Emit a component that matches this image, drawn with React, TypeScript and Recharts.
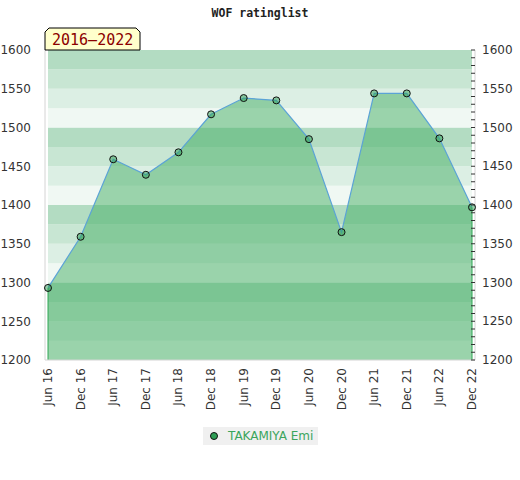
import { ComposedChart, Area, Line, XAxis, YAxis, ReferenceArea, ReferenceLine } from "recharts";

const months = [
  "Jun 16", "Dec 16", "Jun 17", "Dec 17", "Jun 18", "Dec 18", "Jun 19",
  "Dec 19", "Jun 20", "Dec 20", "Jun 21", "Dec 21", "Jun 22", "Dec 22",
];
const ratings = [1293, 1359, 1459, 1439, 1468, 1517, 1538, 1535, 1485, 1365, 1544, 1544, 1486, 1397];

const majorTicks = [1200, 1250, 1300, 1350, 1400, 1450, 1500, 1550, 1600];
const minorTicks = [
  1200, 1210, 1220, 1230, 1240, 1250, 1260, 1270, 1280, 1290,
  1300, 1310, 1320, 1330, 1340, 1350, 1360, 1370, 1380, 1390,
  1400, 1410, 1420, 1430, 1440, 1450, 1460, 1470, 1480, 1490,
  1500, 1510, 1520, 1530, 1540, 1550, 1560, 1570, 1580, 1590, 1600,
];
const bandEdges = [1200, 1225, 1250, 1275, 1300, 1325, 1350, 1375, 1400, 1425, 1450, 1475, 1500, 1525, 1550, 1575, 1600];
// lightest at the bottom of each 100-block, darkest at the top
const bandColors = ["#f0f8f3", "#dcefe4", "#c8e6d3", "#b3dcc2"];

const data = months.map((m, i) => ({ month: m, rating: ratings[i] }));
const font = "'DejaVu Sans', sans-serif";
const mono = "'DejaVu Sans Mono', monospace";

const MonthTick = ({ x, y, payload }: any) => (
  <text
    x={x}
    y={y}
    dy={4}
    transform={`rotate(-90, ${x}, ${y})`}
    textAnchor="end"
    fontSize={12}
    fontFamily={font}
    fill="#333"
  >
    {payload.value}
  </text>
);

const RightTick = ({ x, y, payload }: any) => (
  <g>
    <line x1={x - 4} y1={y} x2={x} y2={y} stroke="#333" />
    {Number(payload.value) % 50 === 0 && (
      <text x={x + 7} y={y} dy={4} fontSize={12} fontFamily={font} fill="#333">
        {payload.value}
      </text>
    )}
  </g>
);

export default function App() {
  return (
    <div style={{ position: "absolute", left: 0, top: 0, width: 520, height: 480, background: "#fff" }}>
      <ComposedChart width={520} height={480} data={data} margin={{ top: 50, right: 0, bottom: 60, left: 0 }}>
        {bandEdges.slice(0, -1).map((from, i) => (
          <ReferenceArea
            key={from}
            yAxisId="left"
            y1={from}
            y2={bandEdges[i + 1]}
            fill={bandColors[i % 4]}
            fillOpacity={1}
            stroke="none"
          />
        ))}
        <ReferenceArea yAxisId="left" fill="none" stroke="#d4d4d4" />
        <XAxis
          dataKey="month"
          height={60}
          tick={<MonthTick />}
          tickLine={false}
          tickSize={0}
          tickMargin={8}
          interval={0}
          padding={{ left: 3, right: 3 }}
          axisLine={{ stroke: "#d4d4d4" }}
        />
        <YAxis
          yAxisId="left"
          width={45}
          domain={[1200, 1600]}
          ticks={majorTicks}
          tickLine={false}
          axisLine={{ stroke: "#d4d4d4" }}
          tick={{ fontSize: 12, fontFamily: font, fill: "#333" }}
          tickMargin={8}
        />
        <YAxis
          yAxisId="right"
          orientation="right"
          width={45}
          domain={[1200, 1600]}
          allowDataOverflow
          ticks={minorTicks}
          interval={0}
          tickLine={false}
          tickSize={0}
          tickMargin={0}
          axisLine={{ stroke: "#d4d4d4" }}
          tick={<RightTick />}
        />
        <Area
          yAxisId="left"
          type="linear"
          dataKey="rating"
          stroke="#5ba3d6"
          strokeWidth={1.2}
          fill="#43ad64"
          fillOpacity={0.5}
          dot={{ r: 3.5, fill: "#2e9e55", stroke: "#111", strokeWidth: 1 }}
          isAnimationActive={false}
        />
        <Line
          yAxisId="right"
          dataKey="rating"
          stroke="none"
          dot={false}
          activeDot={false}
          legendType="none"
          isAnimationActive={false}
        />
        <ReferenceLine
          yAxisId="left"
          segment={[
            { x: months[0], y: 1200 },
            { x: months[0], y: ratings[0] },
          ]}
          stroke="#2ea654"
        />
        <ReferenceLine
          yAxisId="left"
          segment={[
            { x: months[months.length - 1], y: 1200 },
            { x: months[months.length - 1], y: ratings[ratings.length - 1] },
          ]}
          stroke="#2ea654"
        />
      </ComposedChart>
      <svg width={520} height={60} style={{ position: "absolute", left: 0, top: 0 }}>
        <text x={260} y={17} textAnchor="middle" fontSize={11.5} fontWeight="bold" fontFamily={mono} fill="#222">
          WOF ratinglist
        </text>
        <polygon points="45,50 45,32 49,28 136,28 140,32 140,50" fill="#ffffcc" stroke="#000" strokeWidth={1} />
        <text x={52} y={45} fontSize={15} fontFamily={mono} fill="#8b0000">
          2016–2022
        </text>
      </svg>
      <div
        style={{
          position: "absolute",
          left: 203,
          top: 427,
          width: 115,
          height: 18,
          background: "#f0f0f0",
          fontFamily: font,
          fontSize: 12,
          color: "#3aa55c",
          display: "flex",
          alignItems: "center",
        }}
      >
        <svg width={22} height={18}>
          <circle cx={11} cy={9} r={3.5} fill="#2e9e55" stroke="#111" strokeWidth={1} />
        </svg>
        <span style={{ marginLeft: 3 }}>TAKAMIYA Emi</span>
      </div>
    </div>
  );
}
